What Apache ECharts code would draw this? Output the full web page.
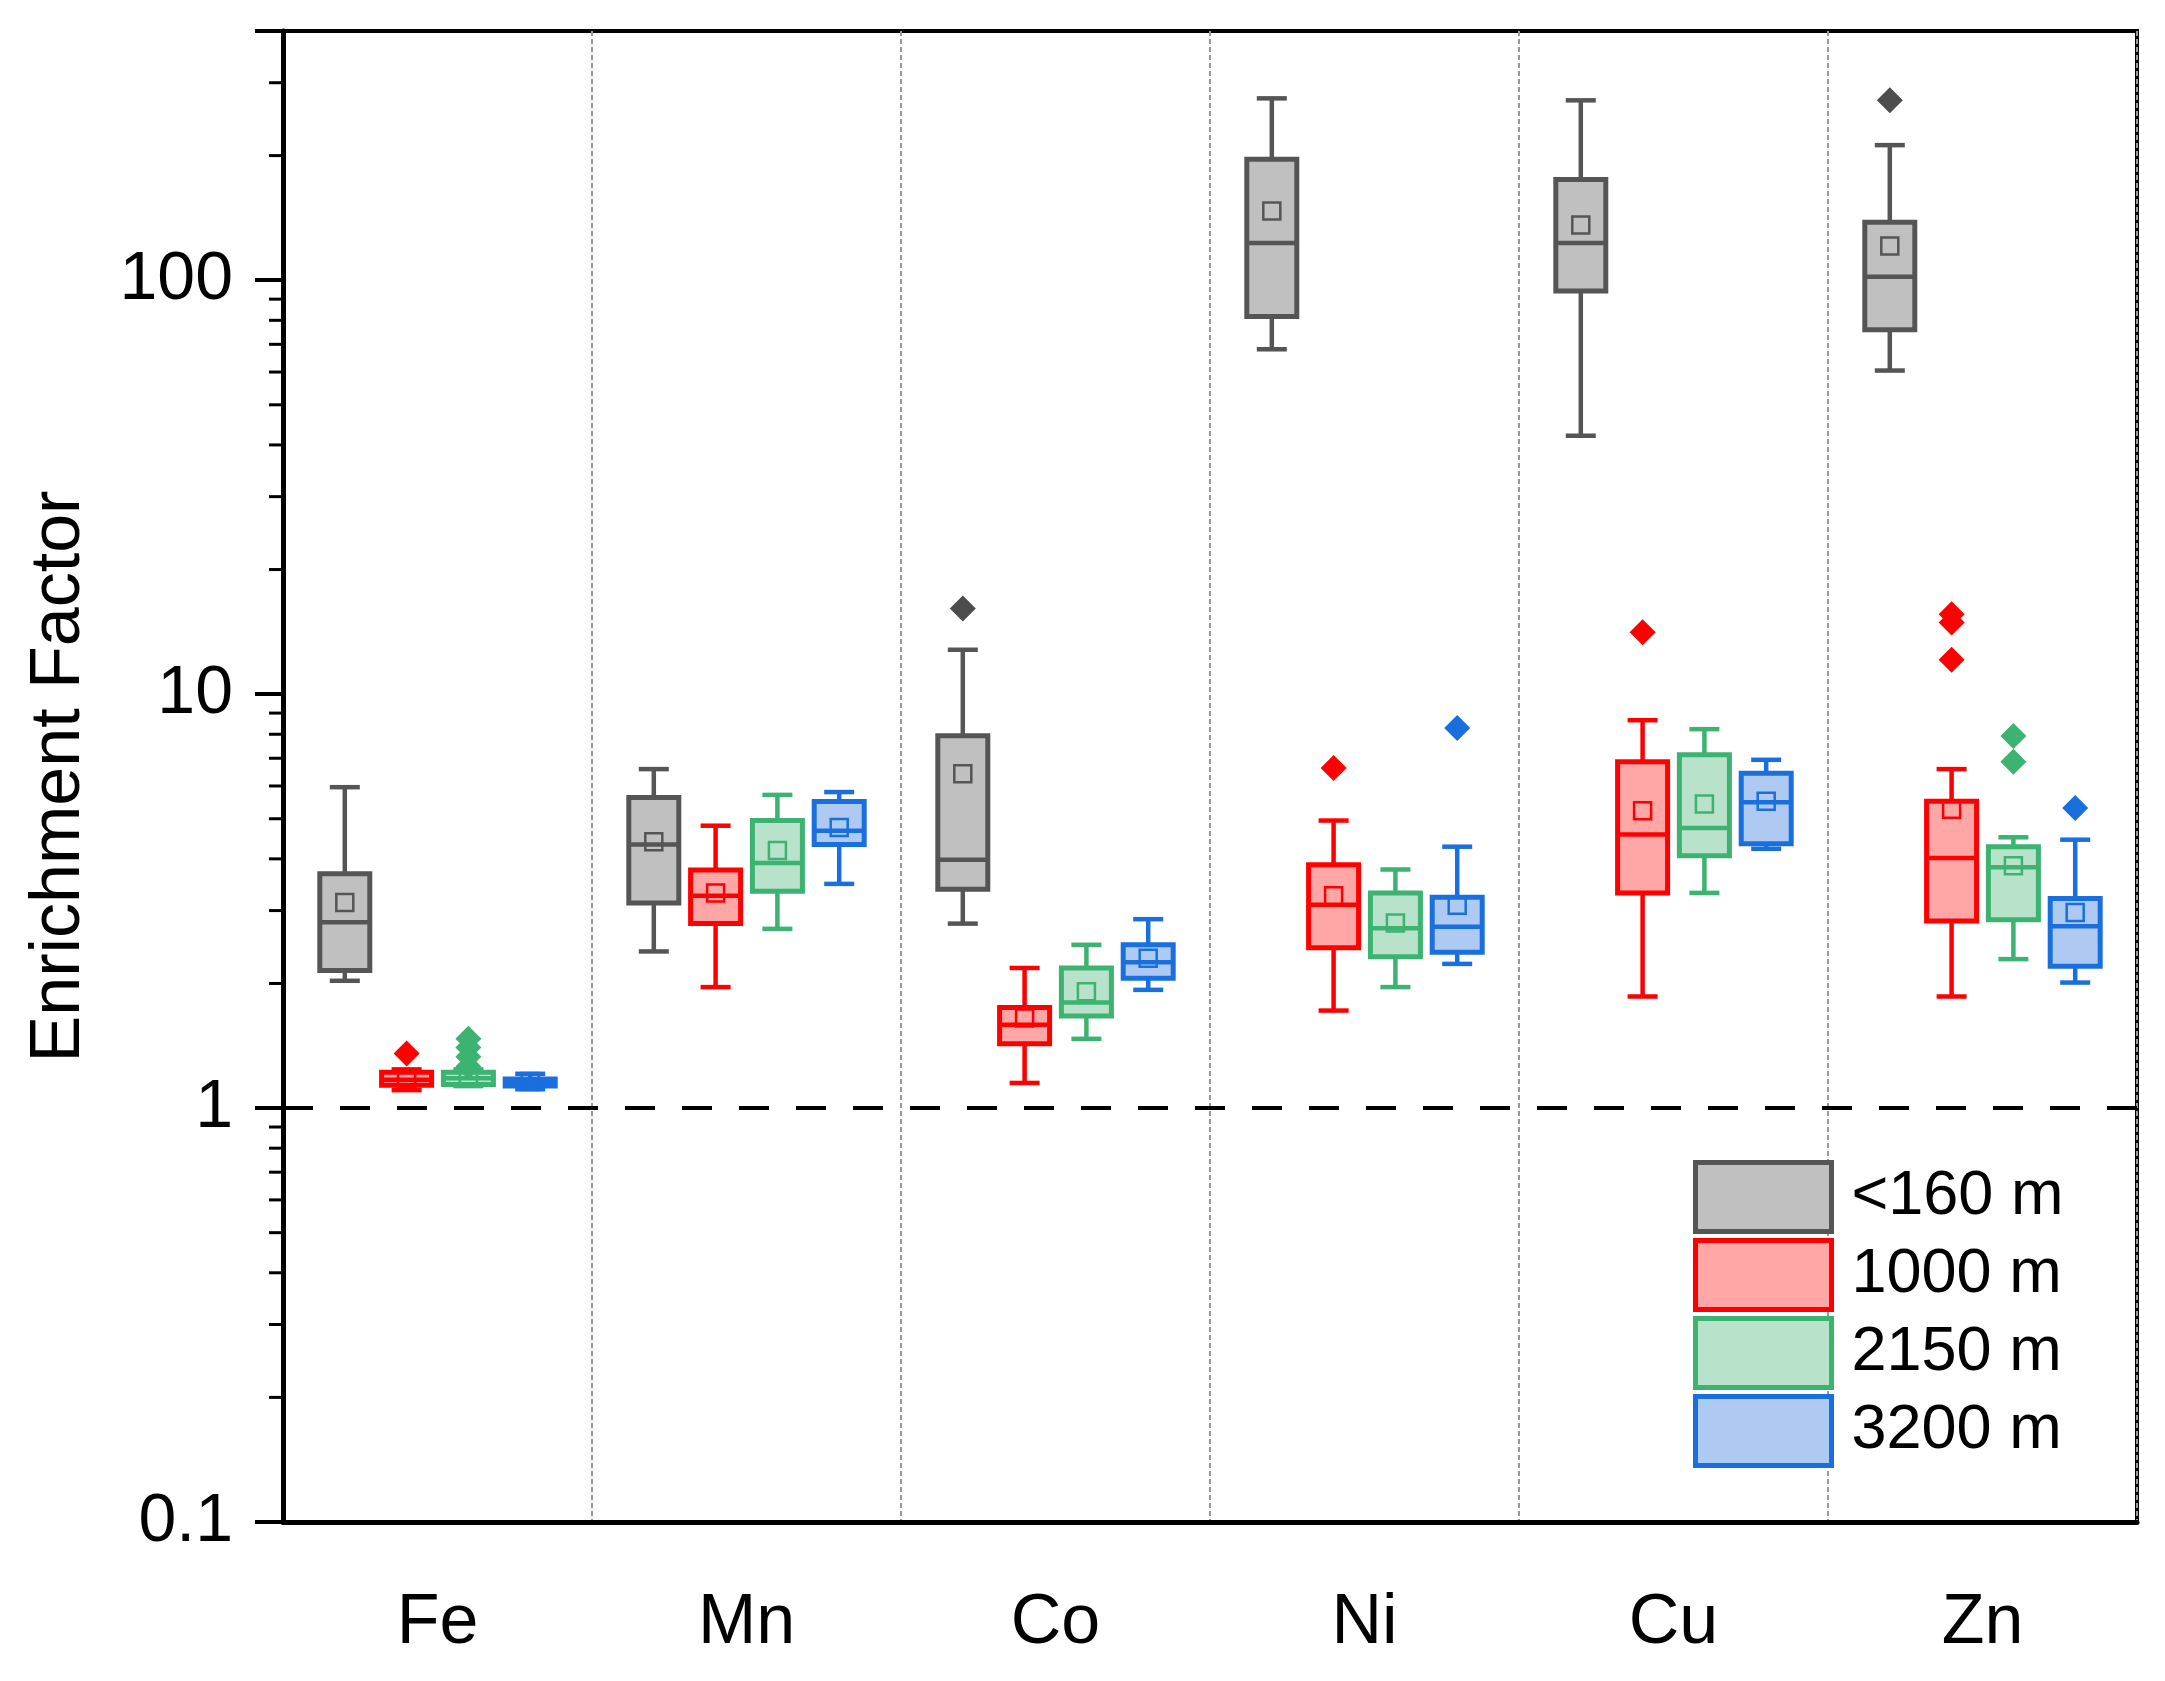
<!DOCTYPE html>
<html>
<head>
<meta charset="utf-8">
<title>Enrichment Factor</title>
<script src="https://cdn.jsdelivr.net/npm/echarts@6/dist/echarts.min.js"></script>
<style>
    html, body { margin: 0; padding: 0; background: #fff; }
    #main { width: 2165px; height: 1681px; }
</style>
</head>
<body>
<div id="main"></div>
<script>
var elements = ['Fe', 'Mn', 'Co', 'Ni', 'Cu', 'Zn'];
var depths = ['<160 m', '1000 m', '2150 m', '3200 m'];

// one row per element: [whisker low, Q1, median, Q3, whisker high, mean]
var boxShallow = [
    [2.03, 2.15, 2.81, 3.68, 5.96, 3.14],
    [2.39, 3.13, 4.33, 5.63, 6.59, 4.40],
    [2.79, 3.38, 3.98, 7.93, 12.8, 6.42],
    [68.1, 81.7, 123, 196, 275, 147],
    [42.1, 94.2, 123, 175, 272, 136],
    [60.5, 75.9, 102, 138, 212, 121]
];
var box1000 = [
    [1.105, 1.135, 1.17, 1.22, 1.24, 1.17],
    [1.96, 2.79, 3.26, 3.76, 4.81, 3.31],
    [1.15, 1.43, 1.59, 1.75, 2.18, 1.65],
    [1.72, 2.44, 3.10, 3.87, 4.95, 3.26],
    [1.86, 3.31, 4.58, 6.87, 8.65, 5.23],
    [1.86, 2.83, 4.02, 5.51, 6.59, 5.27]
];
var box2150 = [
    [1.13, 1.14, 1.18, 1.22, 1.24, 1.20],
    [2.71, 3.34, 3.91, 4.95, 5.71, 4.19],
    [1.47, 1.67, 1.80, 2.18, 2.48, 1.91],
    [1.96, 2.32, 2.72, 3.31, 3.77, 2.80],
    [3.31, 4.07, 4.75, 7.14, 8.23, 5.43],
    [2.29, 2.85, 3.82, 4.28, 4.51, 3.85]
];
var box3200 = [
    [1.11, 1.13, 1.155, 1.175, 1.21, 1.16],
    [3.48, 4.33, 4.68, 5.50, 5.80, 4.76],
    [1.93, 2.06, 2.25, 2.48, 2.86, 2.30],
    [2.23, 2.38, 2.74, 3.23, 4.28, 3.09],
    [4.23, 4.35, 5.48, 6.44, 6.94, 5.51],
    [2.01, 2.20, 2.75, 3.21, 4.45, 2.97]
];

// outliers: [element index, value]
var outShallow = [[2, 16.1], [5, 272]];
var out1000 = [[0, 1.355], [3, 6.63], [4, 14.1], [5, 15.6], [5, 14.9], [5, 12.1]];
var out2150 = [[0, 1.26], [0, 1.33], [0, 1.40], [0, 1.47], [5, 7.92], [5, 6.87]];
var out3200 = [[3, 8.28], [5, 5.31]];

var yTicks = [0.1, 1, 10, 100];
var yMinorTicks = [0.2, 0.3, 0.4, 0.5, 0.6, 0.7, 0.8, 0.9,
    2, 3, 4, 5, 6, 7, 8, 9, 20, 30, 40, 50, 60, 70, 80, 90, 200, 300, 400];

var strokes = ['#555555', '#ff0000', '#3cb371', '#1a6fdf'];
var fills = ['#c0c0c0', '#ffa6a6', '#b8e2ca', '#aecaf2'];
var outlierColors = ['#4d4d4d', '#ff0000', '#3cb371', '#1a6fdf'];

var FONT = '"Liberation Sans", Arial, sans-serif';

function groupX(api, cat, g) {
    var band = api.size([1, 0])[0];
    return api.coord([cat, 1])[0] + (g - 1.5) * band * 0.2;
}

function boxSeries(g, rows) {
    return {
        name: depths[g],
        type: 'custom',
        coordinateSystem: 'cartesian2d',
        itemStyle: {color: fills[g], borderColor: strokes[g], borderWidth: 4},
        encode: {x: 0, y: [1, 2, 3, 4, 5, 6]},
        data: rows.map(function (r, i) {
            return [i].concat(r);
        }),
        z: 3,
        renderItem: function (params, api) {
            var cat = api.value(0);
            var cx = groupX(api, cat, g);
            var y = function (v) {
                return api.coord([cat, v])[1];
            };
            var lo = y(api.value(1));
            var q1 = y(api.value(2));
            var med = y(api.value(3));
            var q3 = y(api.value(4));
            var hi = y(api.value(5));
            var mean = y(api.value(6));
            var bw = 50;
            var cw = 30;
            var ms = 17;
            var line = {stroke: strokes[g], lineWidth: 4.5};
            return {
                type: 'group',
                children: [
                    {type: 'line', shape: {x1: cx, y1: hi, x2: cx, y2: q3}, style: line},
                    {type: 'line', shape: {x1: cx, y1: q1, x2: cx, y2: lo}, style: line},
                    {type: 'line', shape: {x1: cx - cw / 2, y1: hi, x2: cx + cw / 2, y2: hi}, style: line},
                    {type: 'line', shape: {x1: cx - cw / 2, y1: lo, x2: cx + cw / 2, y2: lo}, style: line},
                    {
                        type: 'rect',
                        shape: {x: cx - bw / 2, y: q3, width: bw, height: q1 - q3},
                        style: {fill: fills[g], stroke: strokes[g], lineWidth: 5}
                    },
                    {type: 'line', shape: {x1: cx - bw / 2, y1: med, x2: cx + bw / 2, y2: med}, style: line},
                    {
                        type: 'rect',
                        shape: {x: cx - ms / 2, y: mean - ms / 2, width: ms, height: ms},
                        style: {fill: 'none', stroke: strokes[g], lineWidth: 2.5}
                    }
                ]
            };
        }
    };
}

function outlierSeries(g, points) {
    return {
        name: depths[g],
        type: 'custom',
        coordinateSystem: 'cartesian2d',
        encode: {x: 0, y: 1},
        data: points,
        z: 4,
        renderItem: function (params, api) {
            var cat = api.value(0);
            var cx = groupX(api, cat, g);
            var cy = api.coord([cat, api.value(1)])[1];
            var r = 13;
            return {
                type: 'polygon',
                shape: {points: [[cx, cy - r], [cx + r, cy], [cx, cy + r], [cx - r, cy]]},
                style: {fill: outlierColors[g]}
            };
        }
    };
}

var minorTickSeries = {
    name: 'minor',
    type: 'custom',
    coordinateSystem: 'cartesian2d',
    silent: true,
    encode: {x: 0, y: 1},
    data: yMinorTicks.map(function (v) {
        return [0, v];
    }),
    renderItem: function (params, api) {
        var p = api.coord([0, api.value(1)]);
        var x0 = p[0] - api.size([1, 0])[0] / 2;
        return {
            type: 'line',
            shape: {x1: x0 - 14, y1: p[1], x2: x0, y2: p[1]},
            style: {stroke: '#000', lineWidth: 3}
        };
    }
};

var chart = echarts.init(document.getElementById('main'));

var series = [
    boxSeries(0, boxShallow),
    boxSeries(1, box1000),
    boxSeries(2, box2150),
    boxSeries(3, box3200),
    outlierSeries(0, outShallow),
    outlierSeries(1, out1000),
    outlierSeries(2, out2150),
    outlierSeries(3, out3200),
    minorTickSeries
];

// reference line at EF = 1
series[0].markLine = {
    silent: true,
    symbol: ['none', 'none'],
    label: {show: false},
    lineStyle: {color: '#000', width: 4, type: [30, 27]},
    data: [{yAxis: 1}]
};

chart.setOption({
    backgroundColor: '#fff',
    animation: false,
    textStyle: {fontFamily: FONT},
    grid: {
        left: 283,
        right: 28,
        top: 31,
        bottom: 159,
        show: true,
        borderColor: '#000',
        borderWidth: 4
    },
    legend: {
        orient: 'vertical',
        left: 1688,
        top: 1155,
        icon: 'rect',
        itemWidth: 136,
        itemHeight: 69,
        itemGap: 4,
        textStyle: {
            fontSize: 63,
            color: '#000',
            fontFamily: FONT,
            padding: [0, 0, 0, 15]
        },
        data: depths.map(function (d, g) {
            return {
                name: d,
                itemStyle: {color: fills[g], borderColor: strokes[g], borderWidth: 5}
            };
        })
    },
    xAxis: {
        type: 'category',
        data: elements,
        boundaryGap: true,
        axisLine: {lineStyle: {color: '#000', width: 5}},
        axisTick: {alignWithLabel: true, length: 28, lineStyle: {width: 4, color: '#000'}},
        axisLabel: {
            fontSize: 70,
            color: '#000',
            margin: 67,
            fontFamily: FONT
        },
        splitLine: {show: true, lineStyle: {color: '#999', width: 2, type: [5, 3]}}
    },
    yAxis: {
        type: 'log',
        logBase: 10,
        min: 0.1,
        max: 400,
        splitNumber: 4,
        name: 'Enrichment Factor',
        nameLocation: 'middle',
        nameGap: 188,
        nameTextStyle: {fontSize: 70, color: '#000', fontFamily: FONT},
        axisLine: {show: true, lineStyle: {color: '#000', width: 5}},
        axisTick: {show: true, length: 28, lineStyle: {width: 4, color: '#000'}},
        axisLabel: {
            fontSize: 68,
            color: '#000',
            margin: 50,
            fontFamily: FONT,
            formatter: function (v) {
                var t = yTicks.filter(function (k) {
                    return Math.abs(Math.log10(k) - Math.log10(v)) < 1e-6;
                });
                return t.length ? String(t[0]) : '';
            }
        },
        splitLine: {show: false}
    },
    series: series
});
</script>
</body>
</html>
